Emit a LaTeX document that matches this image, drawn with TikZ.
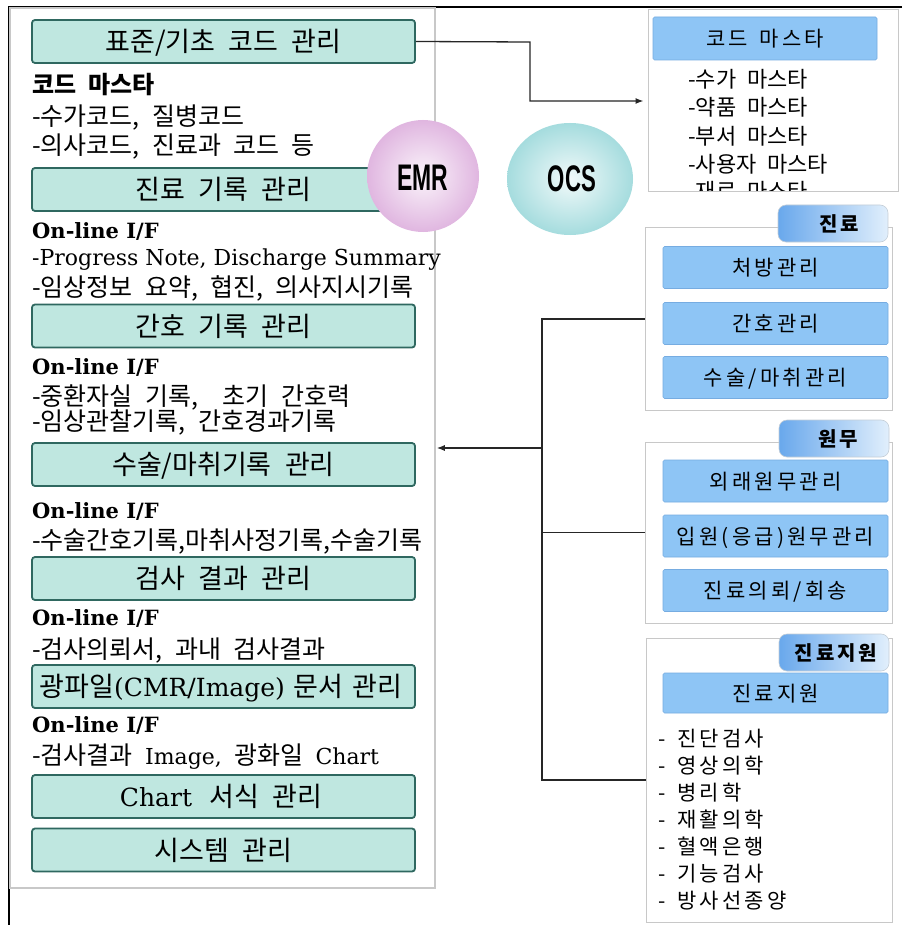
\documentclass[tikz,border=0pt]{standalone}
\usepackage{fontspec}
\usepackage{graphicx}
\setmainfont{Noto Sans CJK KR}
\newfontfamily\krw[WordSpace=2.2]{Noto Sans CJK KR}
\newfontfamily\krls[LetterSpace=15,WordSpace=1.5]{Noto Sans CJK KR}
\newfontfamily\serlat{DejaVu Serif}
\newfontfamily\sanslat{Liberation Sans}
\usetikzlibrary{arrows.meta}
\definecolor{tealfill}{RGB}{191,231,224}
\definecolor{tealline}{RGB}{47,104,96}
\definecolor{panelgray}{RGB}{200,200,200}
\definecolor{bluefill}{RGB}{142,197,245}
\definecolor{blueline}{RGB}{118,172,225}
\definecolor{emrpink}{RGB}{224,182,224}
\definecolor{ocsteal}{RGB}{165,220,222}
\definecolor{tabblue}{RGB}{105,168,236}
\definecolor{tablight}{RGB}{225,239,252}
\tikzset{
  tealbox/.style={draw=tealline, fill=tealfill, line width=1.8pt, rounded corners=3pt,
    minimum width=383pt, minimum height=43pt, inner sep=0pt,
    text height=20pt, text depth=0pt, font=\krw\fontsize{27}{27}\selectfont},
  bodytxt/.style={anchor=west, inner sep=0pt, text height=19pt, text depth=0pt,
    font=\krw\fontsize{25}{25}\selectfont},
  oltxt/.style={anchor=west, inner sep=0pt, text height=15pt, text depth=0pt,
    font=\serlat\bfseries\fontsize{21}{21}\selectfont},
  rtxt/.style={anchor=west, inner sep=0pt, text height=17pt, text depth=0pt,
    font=\krw\fontsize{22}{22}\selectfont},
  ltxt/.style={anchor=west, inner sep=0pt, text height=16pt, text depth=0pt,
    font=\krls\fontsize{21}{21}\selectfont},
  panel/.style={draw=panelgray, line width=1pt, fill=white, inner sep=0pt},
  bluebox/.style={fill=bluefill, draw=blueline, line width=0.6pt, rounded corners=1.5pt,
    minimum width=225pt, minimum height=42pt, inner sep=0pt,
    text height=16pt, text depth=0pt, font=\krls\fontsize{21}{21}\selectfont},
  tabbox/.style={left color=tabblue, right color=tablight, draw=tablight!70!gray,
    line width=0.6pt, rounded corners=8pt, minimum width=110pt, minimum height=37pt,
    inner sep=0pt, text height=15pt, text depth=0pt,
    font=\krls\bfseries\fontsize{20}{20}\selectfont},
  conn/.style={draw=black!85, line width=1.3pt},
  arr/.style={conn, -{Latex[length=8pt,width=6pt]}}
}
\begin{document}
\begin{tikzpicture}[x=1pt,y=-1pt]
\useasboundingbox (0,0) rectangle (902,925);
\fill[white] (0,0) rectangle (902,925);
% outer frame
\coordinate (ftl) at (9,7);
\coordinate (ftr) at (902,7);
\coordinate (fbl) at (9,925);
\draw[black, line width=1.2pt] (ftr) -- (ftl) -- (fbl);
% left panel
\node[panel, draw=panelgray, line width=1.5pt, minimum width=425pt, minimum height=880pt] (lp) at (222.5,448) {};
% teal boxes
\node[tealbox] (b1) at (223.5,41.5) {표준/기초 코드 관리};
\node[tealbox] (b2) at (223.5,189.5) {진료 기록 관리};
\node[tealbox] (b3) at (223.5,326) {간호 기록 관리};
\node[tealbox] (b4) at (223.5,464.5) {수술/마취기록 관리};
\node[tealbox] (b5) at (223.5,578.5) {검사 결과 관리};
\node[tealbox, font=\fontsize{27}{27}\selectfont] (b6) at (223.5,686.5) {\hspace{-5pt}광파일{\serlat\fontsize{25}{25}\selectfont(CMR/Image)}\hspace{9pt}문서\hspace{9pt}관리};
\node[tealbox] (b7) at (223.5,796.5) {\hspace{-5pt}{\serlat\fontsize{25}{25}\selectfont Chart}\hspace{4pt} 서식 관리};
\node[tealbox] (b8) at (223.5,850) {시스템 관리};
% left texts
\node[bodytxt, font=\krw\bfseries\fontsize{24}{24}\selectfont] (t1) at (32,84) {코드 마스타};
\node[bodytxt] (t2) at (32,116) {-수가코드, 질병코드};
\node[bodytxt] (t3) at (32,145) {-의사코드, 진료과 코드 등};
\node[oltxt] (o1) at (32,231) {On-line I/F};
\node[oltxt, font=\serlat\fontsize{22}{22}\selectfont] (t4) at (32,258) {-Progress Note, Discharge Summary};
\node[bodytxt] (t5) at (32,287) {-임상정보 요약, 협진, 의사지시기록};
\node[oltxt] (o2) at (32,367) {On-line I/F};
\node[bodytxt] (t6) at (32,396) {-중환자실 기록,\ \ 초기 간호력};
\node[bodytxt] (t7) at (32,421) {-임상관찰기록, 간호경과기록};
\node[oltxt] (o3) at (32,511) {On-line I/F};
\node[bodytxt] (t8) at (32,540) {-수술간호기록,마취사정기록,수술기록};
\node[oltxt] (o4) at (32,618) {On-line I/F};
\node[bodytxt] (t9) at (32,649) {-검사의뢰서, 과내 검사결과};
\node[oltxt] (o5) at (32,725) {On-line I/F};
\node[bodytxt] (t10) at (32,755) {-검사결과 {\serlat\fontsize{22}{22}\selectfont Image,} 광화일 {\serlat\fontsize{22}{22}\selectfont Chart}};
% circles
\shade[inner color=white!85!emrpink, outer color=emrpink] (423,176) circle (56pt);
\node[font=\sanslat\bfseries\fontsize{37}{37}\selectfont, inner sep=0pt] (emr) at (423,178) {\scalebox{0.62}[1]{EMR}};
\shade[inner color=white!85!ocsteal, outer color=ocsteal] (570,179) ellipse (63pt and 56pt);
\node[font=\sanslat\bfseries\fontsize{37}{37}\selectfont, inner sep=0pt] (ocs) at (572,179) {\scalebox{0.6}[1]{OCS}};
% code master panel
\node[panel, minimum width=250pt, minimum height=182pt] (cm) at (773,101) {};
\node[bluebox, minimum width=224pt, minimum height=43pt] (cmh) at (765,38.5) {코드 마스타};
\begin{scope}
\clip (648,10) rectangle (898,191);
\node[rtxt] (c1) at (688,79) {-수가 마스타};
\node[rtxt] (c2) at (688,107) {-약품 마스타};
\node[rtxt] (c3) at (688,136) {-부서 마스타};
\node[rtxt] (c4) at (688,164) {-사용자 마스타};
\node[rtxt] (c5) at (688,191) {-재료 마스타};
\end{scope}
% 진료 panel
\node[panel, minimum width=247pt, minimum height=182pt] (jr) at (768.5,319) {};
\node[tabbox] (jrt) at (833,223.5) {\hspace{12pt}진료};
\node[bluebox] (jr1) at (775.5,267.5) {처방관리};
\node[bluebox] (jr2) at (775.5,323.5) {간호관리};
\node[bluebox] (jr3) at (775.5,377.5) {수술/마취관리};
% 원무 panel
\node[panel, minimum width=247pt, minimum height=181pt] (wm) at (768.5,532.5) {};
\node[tabbox] (wmt) at (834,438.5) {\hspace{8pt}원무};
\node[bluebox] (wm1) at (775.5,481) {외래원무관리};
\node[bluebox] (wm2) at (775.5,536) {입원(응급)원무관리};
\node[bluebox] (wm3) at (775.5,590.5) {진료의뢰/회송};
% 진료지원 panel
\node[panel, minimum width=246pt, minimum height=284pt] (js) at (769,780) {};
\node[tabbox] (jst) at (834,652.5) {\hspace{4pt}진료지원};
\node[bluebox, minimum height=40pt] (jsh) at (775.5,693) {진료지원};
\node[ltxt] (s1) at (658,738) {- 진단검사};
\node[ltxt] (s2) at (658,765) {- 영상의학};
\node[ltxt] (s3) at (658,792) {- 병리학};
\node[ltxt] (s4) at (658,819) {- 재활의학};
\node[ltxt] (s5) at (658,846) {- 혈액은행};
\node[ltxt] (s6) at (658,873) {- 기능검사};
\node[ltxt] (s7) at (658,900) {- 방사선종양};
% connectors
\coordinate (bend) at (530,42);
\draw[arr, shorten >=4pt] (b1.east) -- (bend) |- (cm.west);
\coordinate (bustop) at (542,319);
\draw[conn] (jr.west) -- (bustop) -- (bustop |- js.west) -- (js.west);
\draw[conn] (wm.west) -- (wm.west -| bustop);
\draw[arr, shorten >=1pt] (lp.east -| bustop) -- (lp.east);
\end{tikzpicture}
\end{document}
